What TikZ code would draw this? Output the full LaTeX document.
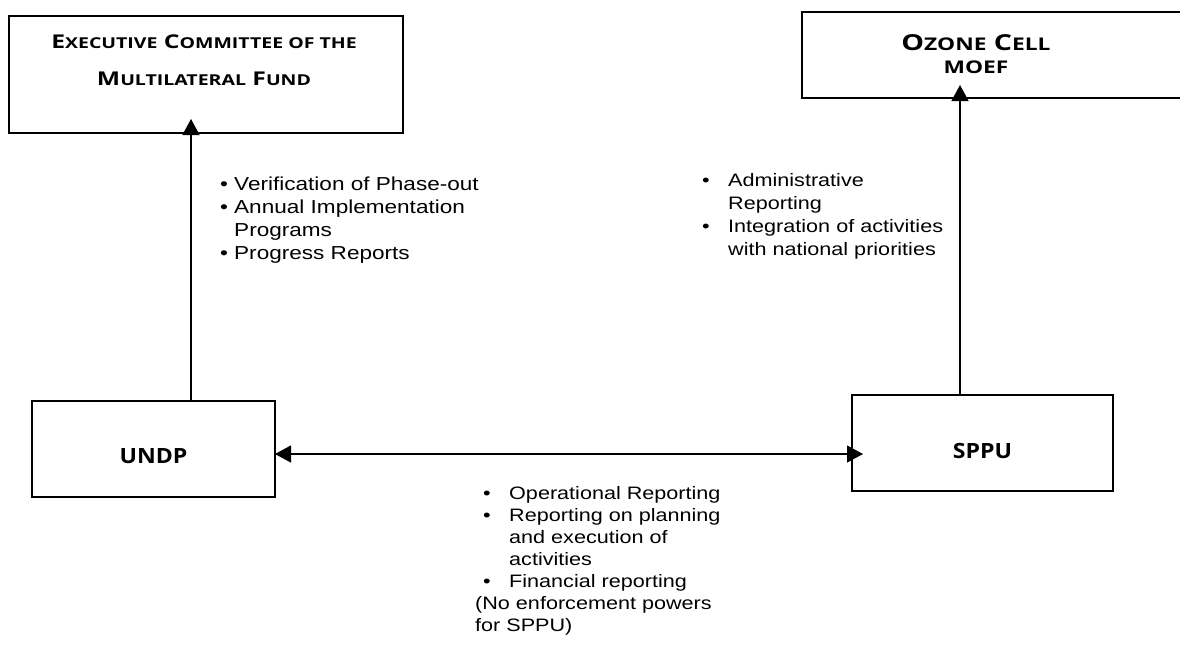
\documentclass[tikz,border=0pt]{standalone}
\usepackage{fontspec}
\setmainfont{Liberation Sans}
\newfontfamily\bodyfont[FakeStretch=1.2]{Liberation Sans}
\newfontfamily\hdfont[FakeStretch=1.1]{Open Sans}
\newfontfamily\scfont[FakeStretch=1.3]{Open Sans}
\usetikzlibrary{arrows.meta}
\newcommand\Bg[1]{{\fontsize{19}{23}\selectfont #1}}
\newcommand\Sm[1]{{\fontsize{15}{23}\selectfont #1}}
\newcommand\OBg[1]{{\fontsize{22}{23}\selectfont #1}}
\newcommand\OSm[1]{{\fontsize{17.5}{23}\selectfont #1}}
\begin{document}
\begin{tikzpicture}[x=1pt,y=-1pt,
  box/.style={draw=black, line width=1.3pt, rectangle, inner sep=0pt, outer sep=0pt},
  hd/.style={inner sep=0pt, font=\scfont\bfseries\fontsize{19}{37}\selectfont},
  hdb/.style={inner sep=0pt, font=\hdfont\bfseries\fontsize{21}{25}\selectfont},
  txt/.style={inner sep=0pt, anchor=base west, font=\bodyfont\fontsize{18}{23}\selectfont},
  txtm/.style={inner sep=0pt, anchor=base west, font=\bodyfont\fontsize{18}{22}\selectfont},
  conn/.style={line width=1.2pt, -{Triangle[length=16pt,width=17pt]}},
  conn2/.style={line width=1.2pt, {Triangle[length=16pt,width=17pt]}-{Triangle[length=16pt,width=17pt]}}]
\useasboundingbox (0,0) rectangle (1180,656);
\clip (0,0) rectangle (1180,656);
\fill[white] (0,0) rectangle (1180,656);

% boxes
\node[box, minimum width=394pt, minimum height=117pt] (exec) at (206,74.5) {};
\node[box, minimum width=388pt, minimum height=86pt] (ozone) at (996,55) {};
\node[box, minimum width=243pt, minimum height=96pt] (undp) at (153.5,449) {};
\node[box, minimum width=261pt, minimum height=96pt] (sppu) at (982.5,443) {};

% box texts
\node[hd, anchor=base] (exectxt) at (204,48) {\begin{tabular}[t]{@{}c@{}}\Bg{E}\Sm{XECUTIVE} \Bg{C}\Sm{OMMITTEE OF THE}\\ \Bg{M}\Sm{ULTILATERAL} \Bg{F}\Sm{UND}\end{tabular}};
\node[hd, anchor=base, font=\scfont\bfseries\fontsize{22}{23}\selectfont] (ozonetxt) at (976,50) {\begin{tabular}[t]{@{}c@{}}\OBg{O}\OSm{ZONE} \OBg{C}\OSm{ELL}\\ \OSm{MOEF}\end{tabular}};
\node[hdb, anchor=base] (undptxt) at (153.5,463) {UNDP};
\node[hdb, anchor=base] (sppptxt) at (982.5,458) {SPPU};

% connectors
\coordinate (vl) at (191,0);
\coordinate (vr) at (960,0);
\coordinate (hy) at (0,454);
\draw[conn, shorten >=-14pt] (undp.north -| vl) -- (exec.south -| vl);
\draw[conn, shorten >=-13pt] (sppu.north -| vr) -- (ozone.south -| vr);
\draw[conn2, shorten >=-11pt] (undp.east |- hy) -- (sppu.west |- hy);

% annotations
\node[txt, font=\bodyfont\fontsize{18.8}{23}\selectfont] (t1) at (220,190) {\begin{tabular}[t]{@{}p{14pt}@{}l@{}}
• & Verification of Phase-out\\
• & Annual Implementation\\
  & Programs\\
• & Progress Reports\end{tabular}};
\node[txt] (t2) at (702,186) {\begin{tabular}[t]{@{}p{26pt}@{}l@{}}
• & Administrative\\
  & Reporting\\
• & Integration of activities\\
  & with national priorities\end{tabular}};
\node[txtm] (t3) at (483,499) {\begin{tabular}[t]{@{}p{26pt}@{}l@{}}
• & Operational Reporting\\
• & Reporting on planning\\
  & and execution of\\
  & activities\\
• & Financial reporting\\
\multicolumn{2}{@{\hspace{-8pt}}l@{}}{(No enforcement powers}\\
\multicolumn{2}{@{\hspace{-8pt}}l@{}}{for SPPU)}\end{tabular}};
\end{tikzpicture}
\end{document}
